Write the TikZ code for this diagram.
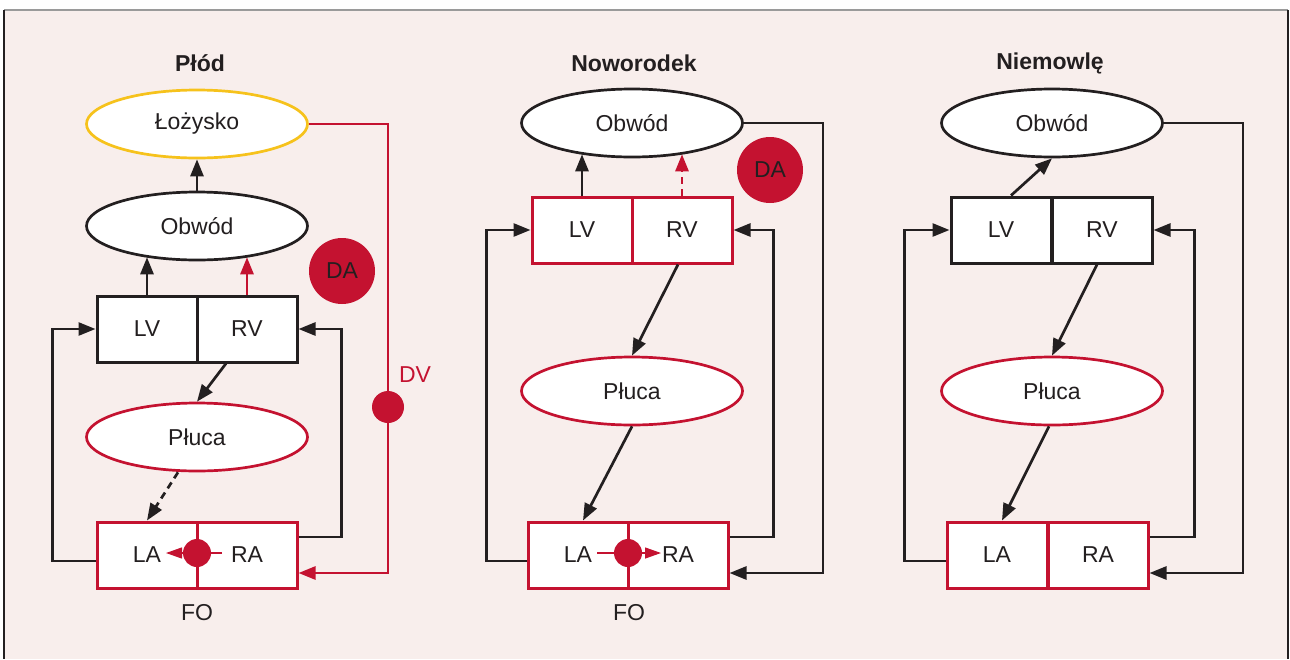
\documentclass[tikz,border=0pt]{standalone}
\usepackage{fontspec}
\setmainfont{Liberation Sans}
\usetikzlibrary{shapes.geometric,arrows.meta}

\definecolor{tlo}{HTML}{F8EEEC}
\definecolor{czerw}{HTML}{C41230}
\definecolor{zloty}{HTML}{F6C21C}
\definecolor{czarny}{HTML}{231F20}
\definecolor{ramka}{HTML}{9A9A9A}

\begin{document}
\begin{tikzpicture}[x=1pt, y=-1pt,
  every node/.style={font=\fontsize{23}{27}\selectfont, text=czarny},
  tytul/.style={font=\fontsize{23}{27}\selectfont\bfseries},
  owal/.style={ellipse, draw=czarny, fill=white, line width=2.7pt, minimum width=221pt, minimum height=68pt, inner sep=0pt},
  komora/.style={rectangle, draw=czarny, fill=white, line width=3pt, minimum width=100pt, minimum height=66pt, inner sep=0pt},
  kolo/.style={circle, fill=czerw, inner sep=0pt},
  linia/.style={draw=czarny, line width=2.7pt},
  strz/.style={linia, -{Triangle[length=17pt,width=13pt]}},
  czstrz/.style={strz, draw=czerw},
  cienka/.style={draw=czerw, line width=1.2pt, -{Triangle[length=16pt,width=11pt]}}]

% Background
\useasboundingbox (0,0) rectangle (1290,659);
\fill[white] (0,0) rectangle (1290,659);
\fill[tlo] (4,10) rectangle (1288,659);
\draw[ramka, line width=1.5pt] (4,10) -- (1288,10);
\draw[czarny, line width=1.5pt] (4,10) -- (4,659);
\draw[czarny, line width=1.5pt] (1288,10) -- (1288,659);

% Plod

\node[tytul] (tytul1) at (200,63) {Płód};
\node[owal, draw=zloty] (lozysko) at (197,124) {Łożysko};
\node[owal] (obwod1) at (197,226) {Obwód};
\node[komora] (lv1) at (147,329) {LV};
\node[komora] (rv1) at (247,329) {RV};
\node[owal, draw=czerw] (pluca1) at (197,437) {Płuca};
\node[komora, draw=czerw] (la1) at (147,555) {LA};
\node[komora, draw=czerw] (ra1) at (247,555) {RA};
\node[kolo, minimum size=66pt] (da1) at (342,271) {DA};
\node[kolo, minimum size=32pt] (dv) at (388,407) {};
\node[text=czerw] (dvtekst) at (415,375) {DV};
\coordinate (fo1p) at (222,553);
\coordinate (fo1k) at (166,553);
\draw[cienka] (fo1p) -- (fo1k);
\node[kolo, minimum size=28pt] (fo1) at (197,553) {};
\node (fo1tekst) at (197,613) {FO};

\draw[strz] (obwod1.north) -- (lozysko.south);
\draw[strz] (lv1.north) -- (lv1.north |- obwod1.211);
\draw[czstrz] (rv1.north) -- (rv1.north |- obwod1.329);
\draw[strz] ([xshift=-21pt]rv1.south) -- (pluca1.north);
\draw[strz, dash pattern=on 7pt off 5pt] ([xshift=-19pt]pluca1.south) -- (la1.north);
\draw[strz] ([yshift=-6pt]la1.west) -- ++(-43,0) |- (lv1.west);
\draw[strz] ([yshift=18pt]ra1.east) -- ++(43,0) |- (rv1.east);
\draw[linia, draw=czerw] (lozysko.east) -| (dv.north);
\draw[czstrz] (dv.south) |- ([yshift=-18pt]ra1.east);

% Noworodek

\node[tytul] (tytul2) at (634,63) {Noworodek};
\node[owal] (obwod2) at (632,123) {Obwód};
\node[komora, draw=czerw] (lv2) at (582,230) {LV};
\node[komora, draw=czerw] (rv2) at (682,230) {RV};
\node[kolo, minimum size=66pt] (da2) at (770,170) {DA};
\node[owal, draw=czerw] (pluca2) at (632,391) {Płuca};
\node[komora, draw=czerw] (la2) at (578,555) {LA};
\node[komora, draw=czerw] (ra2) at (678,555) {RA};
\coordinate (fo2p) at (597,553);
\coordinate (fo2k) at (661,553);
\draw[cienka] (fo2p) -- (fo2k);
\node[kolo, minimum size=28pt] (fo2) at (628,553) {};
\node (fo2tekst) at (629,613) {FO};

\draw[strz] (lv2.north) -- (lv2.north |- obwod2.211);
\draw[czstrz, dash pattern=on 7pt off 5pt] (rv2.north) -- (rv2.north |- obwod2.329);
\draw[strz] ([xshift=-4pt]rv2.south) -- (pluca2.north);
\draw[strz] (pluca2.south) -- ([xshift=5pt]la2.north);
\draw[strz] ([yshift=-6pt]la2.west) -- ++(-40,0) |- (lv2.west);
\draw[strz] ([yshift=18pt]ra2.east) -- ++(44,0) |- (rv2.east);
\draw[strz] (obwod2.east) -- ++(79,0) |- ([yshift=-18pt]ra2.east);

% Niemowle

\node[tytul] (tytul3) at (1050,63) {Niemowlę};
\node[owal] (obwod3) at (1052,123) {Obwód};
\node[komora] (lv3) at (1001,230) {LV};
\node[komora] (rv3) at (1102,230) {RV};
\node[owal, draw=czerw] (pluca3) at (1052,391) {Płuca};
\node[komora, draw=czerw] (la3) at (997,555) {LA};
\node[komora, draw=czerw] (ra3) at (1098,555) {RA};

\draw[strz] ([xshift=10pt]lv3.north) -- (obwod3.south);
\draw[strz] ([xshift=-5pt]rv3.south) -- (pluca3.north);
\draw[strz] ([xshift=-3pt]pluca3.south) -- ([xshift=5pt]la3.north);
\draw[strz] ([yshift=-6pt]la3.west) -- ++(-41,0) |- (lv3.west);
\draw[strz] ([yshift=18pt]ra3.east) -- ++(45,0) |- (rv3.east);
\draw[strz] (obwod3.east) -- ++(79,0) |- ([yshift=-18pt]ra3.east);

\end{tikzpicture}
\end{document}
